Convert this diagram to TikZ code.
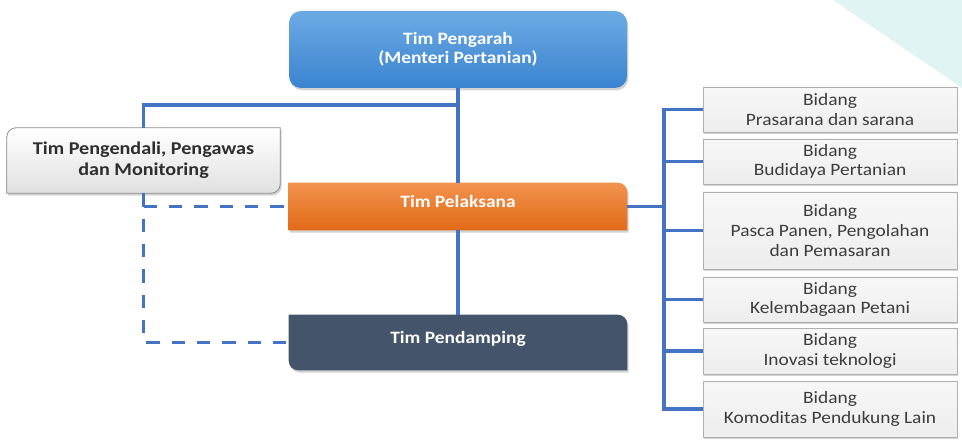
\documentclass[tikz,border=0pt]{standalone}
\usepackage{fontspec}
\setmainfont{Carlito}
\newfontfamily\widefont[FakeStretch=1.12]{Carlito}
\usetikzlibrary{shadows,backgrounds}

\definecolor{linkblue}{RGB}{68,114,196}
\definecolor{headtop}{RGB}{108,170,228}
\definecolor{headbot}{RGB}{58,132,208}
\definecolor{pelatop}{RGB}{242,146,78}
\definecolor{pelabot}{RGB}{226,106,22}
\definecolor{pendfill}{RGB}{68,84,106}
\definecolor{bidtext}{RGB}{60,60,60}
\definecolor{bidline}{RGB}{175,175,175}
\definecolor{tealbg}{RGB}{224,244,243}

\tikzset{
  link/.style={draw=linkblue, line width=2.3pt},
  dashlink/.style={link, dash pattern=on 10pt off 9pt},
  boxtext/.style={inner sep=0pt, align=center},
  mainbox/.style={boxtext, text=white, font=\widefont\fontsize{13}{14.5}\selectfont\bfseries},
  bidang/.style={boxtext, minimum width=190.5pt, text=bidtext,
    font=\widefont\fontsize{13}{14.8}\selectfont,
    draw=bidline, line width=0.6pt, top color=gray!6, bottom color=gray!14,
    drop shadow={opacity=0.35, shadow xshift=1pt, shadow yshift=-1.6pt}},
  softshadow/.style={drop shadow={opacity=0.35, shadow xshift=1pt, shadow yshift=-1.8pt}}
}

\begin{document}
\begin{tikzpicture}[x=0.75pt, y=-0.75pt]
\useasboundingbox (0,0) rectangle (962,441);

% corner decoration
\fill[tealbg] (833,0) -- (962,0) -- (962,88) -- cycle;

% main boxes
\node[mainbox, minimum width=253.5pt, minimum height=57.75pt,
      rounded corners=9pt, top color=headtop, bottom color=headbot, softshadow]
  (pengarah) at (458,49.5) {Tim Pengarah\\(Menteri Pertanian)};

\node[mainbox, minimum width=253.5pt, minimum height=35.25pt]
  (pel) at (458,206.5) {\raisebox{7pt}{Tim Pelaksana}};

\node[mainbox, minimum width=253.5pt, minimum height=41.25pt]
  (pend) at (458,342.5) {\raisebox{7pt}{Tim Pendamping}};

\node[boxtext, minimum width=204.75pt, minimum height=48.75pt, text=black!82,
      font=\widefont\fontsize{13.5}{15.8}\selectfont\bfseries]
  (pengendali) at (143.5,160.5) {\raisebox{1pt}{\shortstack{Tim Pengendali, Pengawas\\[1pt]dan Monitoring}}};

% fields
\node[bidang, minimum height=33.75pt] (b1) at (830,109.5) {Bidang\\Prasarana dan sarana};
\node[bidang, minimum height=33.75pt] (b2) at (830,161.5) {Bidang\\Budidaya Pertanian};
\node[bidang, minimum height=57.75pt] (b3) at (830,230.5) {Bidang\\Pasca Panen, Pengolahan\\dan Pemasaran};
\node[bidang, minimum height=33.75pt] (b4) at (830,299.5) {Bidang\\Kelembagaan Petani};
\node[bidang, minimum height=34.5pt] (b5) at (830,351) {Bidang\\Inovasi teknologi};
\node[bidang, minimum height=42pt] (b6) at (830,409) {\raisebox{-2pt}{\shortstack{Bidang\\[1pt]Komoditas Pendukung Lain}}};

% shaped backgrounds of the main boxes
\begin{scope}[on background layer]
  \path[top color=pelatop, bottom color=pelabot, softshadow]
    (pel.south west) -- (pel.north west) -- ([xshift=-7pt]pel.north east)
    arc[start angle=90, end angle=0, radius=7pt] -- (pel.south east) -- cycle;
  \path[fill=pendfill, softshadow]
    ([yshift=7pt]pend.south west) -- (pend.north west) -- ([xshift=-7pt]pend.north east)
    arc[start angle=90, end angle=0, radius=7pt] -- (pend.south east)
    -- ([xshift=7pt]pend.south west) arc[start angle=270, end angle=180, radius=7pt] -- cycle;
  \path[draw=black!45, line width=0.6pt, top color=white, bottom color=black!12, softshadow]
    ([yshift=-7pt]pengendali.north west) arc[start angle=180, end angle=90, radius=7pt]
    -- (pengendali.north east) -- ([yshift=7pt]pengendali.south east)
    arc[start angle=0, end angle=-90, radius=7pt] -- (pengendali.south west) -- cycle;
\end{scope}

% connectors
\coordinate (tee) at (458,105);
\draw[link] (pengarah.south) -- (pel.north);
\draw[link] (pel.south) -- (pend.north);
\draw[link] (pengendali.north) |- (tee);
\draw[dashlink] (pengendali.south) |- (pend.west);
\draw[dashlink] (pengendali.south |- pel.west) -- (pel.west);

\coordinate (spine) at (664,206.5);
\draw[link] (pel.east) -- (spine);
\draw[link] (b1.west) -- (b1.west -| spine) -- (b6.west -| spine) -- (b6.west);
\foreach \b in {b2,b3,b4,b5} \draw[link] (\b.west) -- (\b.west -| spine);
\end{tikzpicture}
\end{document}
